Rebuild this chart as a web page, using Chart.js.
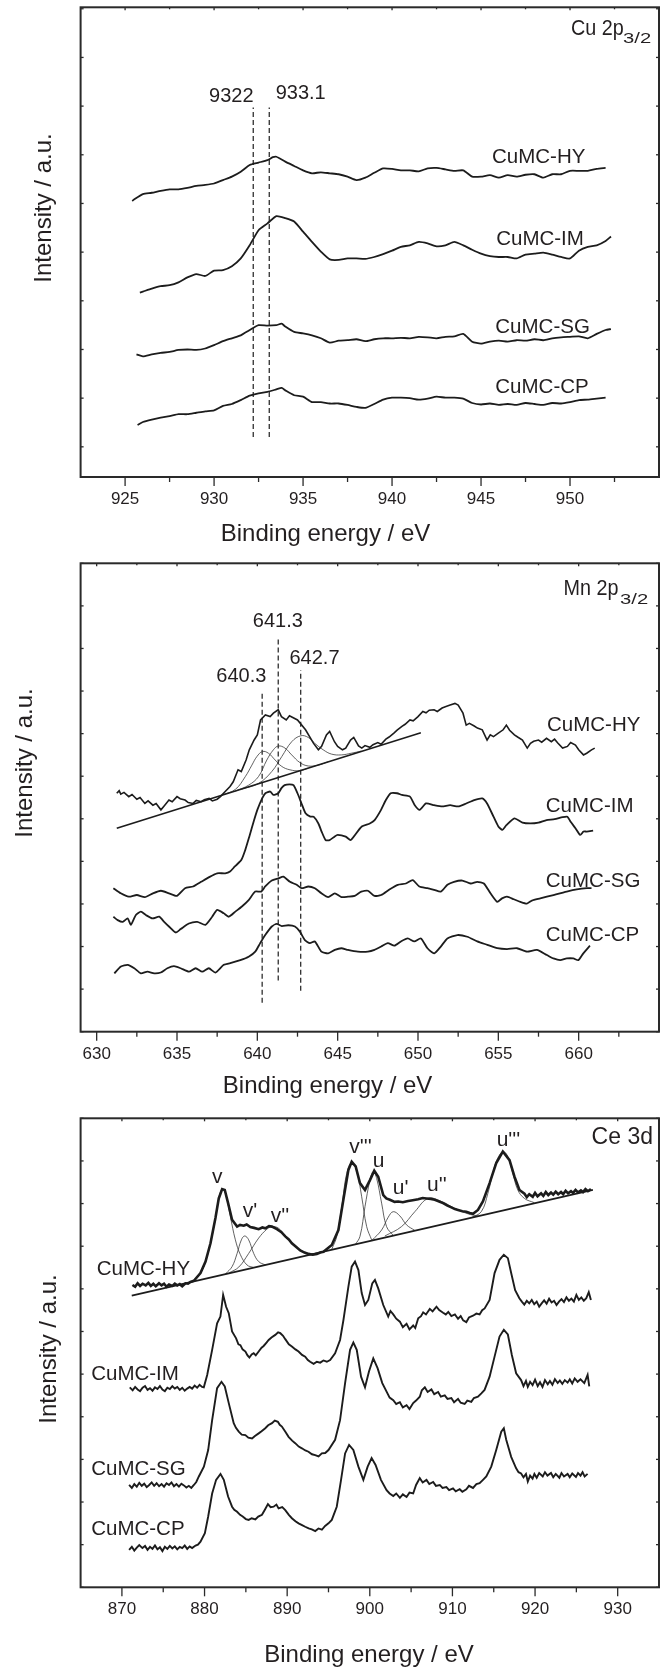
<!DOCTYPE html>
<html>
<head>
<meta charset="utf-8">
<script src="https://cdn.jsdelivr.net/npm/chart.js@4.4.1/dist/chart.umd.min.js"></script>
<style>
  html, body { margin: 0; padding: 0; background: #fff; }
  #wrap { position: relative; width: 665px; height: 1669px; }
  #wrap canvas { position: absolute; left: 0; }
</style>
</head>
<body>
<div id="wrap">
  <canvas id="cuChart" width="665" height="552" style="top:0px"></canvas>
  <canvas id="mnChart" width="665" height="552" style="top:552px"></canvas>
  <canvas id="ceChart" width="665" height="565" style="top:1104px"></canvas>
</div>
<script>
// ---- Cu 2p3/2 ----
const cuTicks = [925, 930, 935, 940, 945, 950];
const cuMinor = [927.5, 932.5, 937.5, 942.5, 947.5, 952.5];
const cuPeaks = [932.2, 933.1];
const cuPeakLabels = ["9322", "933.1"];
const cuHY = [[925.4,5.05],[925.5,5.08],[926,5.19],[926.5,5.22],[927,5.26],[927.5,5.29],[928,5.29],[928.5,5.32],[929,5.36],[929.5,5.38],[930,5.41],[930.5,5.48],[931,5.55],[931.5,5.65],[932,5.79],[932.5,5.84],[933,5.89],[933.3,5.95],[933.5,5.96],[934,5.86],[934.5,5.77],[935,5.68],[935.5,5.62],[936,5.64],[936.5,5.62],[937,5.60],[937.5,5.55],[938,5.48],[938.5,5.53],[939,5.63],[939.5,5.72],[940,5.71],[940.5,5.68],[941,5.68],[941.5,5.66],[942,5.72],[942.5,5.73],[943,5.70],[943.5,5.67],[944,5.68],[944.5,5.55],[945,5.55],[945.5,5.58],[946,5.53],[946.5,5.58],[947,5.55],[947.5,5.59],[948,5.60],[948.5,5.53],[949,5.60],[949.5,5.60],[950,5.67],[950.5,5.67],[951,5.67],[951.5,5.71],[952,5.73]];
const cuIM = [[925.83,3.17],[926,3.19],[926.5,3.25],[927,3.30],[927.5,3.32],[928,3.38],[928.5,3.48],[929,3.55],[929.5,3.51],[930,3.62],[930.5,3.63],[931,3.71],[931.5,3.87],[932,4.14],[932.5,4.45],[933,4.59],[933.5,4.74],[934,4.70],[934.5,4.63],[935,4.42],[935.5,4.21],[936,4.01],[936.5,3.85],[937,3.84],[937.5,3.87],[938,3.87],[938.5,3.86],[939,3.90],[939.5,3.96],[940,4.03],[940.5,4.11],[941,4.14],[941.5,4.21],[942,4.18],[942.5,4.12],[943,4.14],[943.5,4.21],[944,4.14],[944.5,4.05],[945,3.97],[945.5,3.92],[946,3.90],[946.5,3.90],[947,3.87],[947.5,3.95],[948,3.97],[948.5,3.99],[949,3.95],[949.5,3.90],[950,3.87],[950.5,4.03],[951,4.11],[951.5,4.14],[952,4.23],[952.3,4.32]];
const cuSG = [[925.64,1.90],[926,1.86],[926.5,1.90],[927,1.93],[927.5,1.95],[928,1.99],[928.5,2.00],[929,1.99],[929.5,2.02],[930,2.09],[930.5,2.17],[931,2.23],[931.5,2.29],[932,2.40],[932.5,2.50],[933,2.49],[933.5,2.50],[933.8,2.53],[934,2.47],[934.5,2.36],[935,2.33],[935.5,2.29],[936,2.23],[936.5,2.14],[937,2.18],[937.5,2.19],[938,2.21],[938.5,2.17],[939,2.21],[939.5,2.23],[940,2.23],[940.5,2.24],[941,2.23],[941.5,2.26],[942,2.25],[942.5,2.23],[943,2.26],[943.5,2.27],[944,2.32],[944.5,2.16],[945,2.12],[945.5,2.16],[946,2.18],[946.5,2.16],[947,2.19],[947.5,2.18],[948,2.21],[948.5,2.19],[949,2.23],[949.5,2.25],[950,2.26],[950.5,2.27],[951,2.23],[951.5,2.32],[952,2.40],[952.3,2.42]];
const cuCP = [[925.7,0.45],[926,0.51],[926.5,0.56],[927,0.60],[927.5,0.63],[928,0.67],[928.5,0.67],[929,0.70],[929.5,0.73],[930,0.75],[930.5,0.84],[931,0.88],[931.5,0.96],[932,1.05],[932.5,1.10],[933,1.13],[933.5,1.18],[933.8,1.21],[934,1.16],[934.5,1.06],[935,1.03],[935.5,0.92],[936,0.92],[936.5,0.89],[937,0.89],[937.5,0.86],[938,0.82],[938.5,0.80],[939,0.88],[939.5,0.97],[940,1.01],[940.5,1.01],[941,1.00],[941.5,0.97],[942,0.99],[942.5,1.03],[943,1.01],[943.5,1.01],[944,0.99],[944.5,0.90],[945,0.87],[945.5,0.89],[946,0.86],[946.5,0.88],[947,0.86],[947.5,0.90],[948,0.88],[948.5,0.86],[949,0.90],[949.5,0.89],[950,0.92],[950.5,0.96],[951,0.97],[951.5,0.99],[952,1.01]];

// ---- Mn 2p3/2 ----
const mnTicks = [630, 635, 640, 645, 650, 655, 660];
const mnMinor = [632.5, 637.5, 642.5, 647.5, 652.5, 657.5, 662.5];
const mnPeaks = [640.3, 641.3, 642.7];
const mnPeakTop = [7.98, 9.28, 8.49];
const mnPeakBottom = [0.68, 1.20, 0.96];
const mnHY = [[631.25,5.60],[631.4,5.66],[631.5,5.58],[631.7,5.62],[632,5.52],[632.2,5.57],[632.5,5.46],[632.7,5.50],[633,5.36],[633.2,5.42],[633.5,5.32],[633.7,5.36],[634,5.21],[634.2,5.30],[634.5,5.44],[634.7,5.40],[635,5.52],[635.2,5.47],[635.5,5.44],[635.7,5.38],[636,5.36],[636.2,5.43],[636.5,5.40],[636.7,5.45],[637,5.48],[637.2,5.42],[637.5,5.46],[637.7,5.52],[638,5.64],[638.3,5.76],[638.5,5.87],[638.8,6.15],[639,6.11],[639.3,6.38],[639.5,6.62],[639.8,6.85],[640,6.97],[640.2,7.32],[640.5,7.44],[640.8,7.40],[641,7.48],[641.3,7.56],[641.5,7.40],[641.8,7.32],[642,7.42],[642.5,7.32],[643,7.09],[643.5,6.77],[643.8,6.62],[644,6.70],[644.3,6.97],[644.5,7.05],[644.8,6.81],[645,6.70],[645.3,6.62],[645.5,6.66],[645.8,6.85],[646,6.91],[646.3,6.71],[646.5,6.66],[646.7,6.72],[647,6.68],[647.2,6.74],[647.5,6.79],[647.7,6.75],[648,6.87],[648.2,6.92],[648.5,7.01],[648.7,7.08],[649,7.17],[649.2,7.22],[649.5,7.32],[649.7,7.30],[650,7.40],[650.3,7.52],[650.5,7.49],[650.7,7.55],[651,7.56],[651.2,7.52],[651.5,7.60],[651.7,7.63],[652,7.67],[652.3,7.71],[652.5,7.67],[652.8,7.48],[653,7.20],[653.2,7.24],[653.5,7.18],[653.7,7.13],[654,7.09],[654.3,6.85],[654.5,6.97],[654.7,6.93],[655,7.01],[655.3,7.09],[655.5,7.20],[655.7,7.08],[656,6.97],[656.2,6.92],[656.5,6.85],[656.8,6.66],[657,6.77],[657.2,6.82],[657.5,6.85],[657.7,6.80],[658,6.89],[658.3,6.81],[658.5,6.87],[658.7,6.78],[659,6.66],[659.3,6.70],[659.5,6.79],[659.8,6.73],[660,6.62],[660.3,6.50],[660.5,6.54],[660.8,6.62],[661,6.66]];
const mnHYBase = [[631.25,4.78],[650.18,7.02]];
const mnFit1 = [[637.81,5.56],[638.63,5.69],[639.25,5.99],[639.66,6.26],[639.97,6.46],[640.32,6.58],[640.69,6.54],[641.11,6.38],[641.52,6.23],[642.03,6.15],[642.65,6.13],[643.17,6.19]];
const mnFit2 = [[638.63,5.65],[639.46,5.79],[640.07,5.99],[640.59,6.38],[641.00,6.62],[641.31,6.71],[641.72,6.66],[642.14,6.50],[642.65,6.32],[643.17,6.24],[643.79,6.26],[644.41,6.34]];
const mnFit3 = [[639.04,5.70],[640.07,5.83],[640.90,6.11],[641.52,6.46],[642.14,6.81],[642.71,6.95],[643.17,6.91],[643.58,6.77],[644.10,6.62],[644.61,6.52],[645.23,6.50],[645.85,6.54],[646.47,6.59]];
const mnIM = [[631.04,3.37],[631.5,3.25],[632,3.17],[632.5,3.21],[633,3.16],[633.5,3.25],[634,3.31],[634.5,3.25],[635,3.19],[635.5,3.37],[636,3.41],[636.5,3.52],[637,3.63],[637.5,3.72],[638,3.72],[638.3,3.76],[638.6,3.88],[639,4.03],[639.25,4.27],[639.5,4.58],[639.8,4.97],[640,5.21],[640.3,5.48],[640.5,5.60],[640.8,5.64],[641,5.56],[641.3,5.60],[641.5,5.72],[641.7,5.79],[642,5.81],[642.25,5.79],[642.5,5.60],[642.75,5.36],[643,5.13],[643.3,5.05],[643.5,5.05],[643.8,4.89],[644,4.70],[644.25,4.50],[644.5,4.50],[644.8,4.58],[645,4.62],[645.5,4.58],[645.8,4.50],[646,4.58],[646.5,4.82],[647,4.89],[647.3,4.97],[647.7,5.21],[648,5.44],[648.3,5.60],[648.7,5.60],[649,5.56],[649.5,5.52],[649.8,5.32],[650.1,5.21],[650.5,5.36],[651,5.32],[651.5,5.29],[652,5.32],[652.5,5.29],[653,5.36],[653.5,5.44],[654,5.48],[654.3,5.36],[654.7,5.05],[655,4.82],[655.25,4.74],[655.5,4.85],[656,5.01],[656.5,4.91],[657,4.89],[657.5,4.91],[658,4.97],[658.5,4.99],[659,5.04],[659.3,5.05],[659.5,4.93],[659.8,4.78],[660.1,4.62],[660.3,4.70],[660.5,4.70],[660.9,4.72]];
const mnSG = [[631.04,2.70],[631.31,2.62],[631.62,2.58],[631.93,2.66],[632.13,2.51],[632.44,2.74],[632.75,2.82],[633.06,2.74],[633.48,2.66],[633.89,2.70],[634.20,2.58],[634.50,2.47],[634.92,2.33],[635.23,2.41],[635.74,2.54],[636.26,2.58],[636.77,2.51],[637.19,2.70],[637.50,2.86],[637.91,2.78],[638.22,2.70],[638.63,2.82],[639.04,2.94],[639.46,3.09],[639.87,3.29],[640.24,3.29],[640.49,3.41],[640.90,3.55],[641.31,3.60],[641.62,3.64],[642.03,3.52],[642.45,3.45],[642.76,3.37],[643.17,3.41],[643.58,3.37],[643.99,3.25],[644.41,3.16],[644.82,3.25],[645.23,3.16],[645.64,3.17],[646.06,3.19],[646.47,3.29],[646.88,3.31],[647.29,3.19],[647.71,3.21],[648.22,3.34],[648.74,3.45],[649.25,3.48],[649.67,3.56],[650.08,3.41],[650.59,3.37],[651.01,3.33],[651.42,3.29],[651.83,3.45],[652.24,3.52],[652.76,3.55],[653.28,3.48],[653.69,3.52],[654.10,3.48],[654.51,3.25],[654.93,3.05],[655.23,3.13],[655.54,3.17],[655.96,3.11],[656.37,3.05],[656.78,3.01],[657.09,3.08],[657.61,3.13],[658.43,3.21],[659.26,3.29],[659.88,3.34],[660.51,3.37],[660.80,3.37]];
const mnCP = [[631.10,1.37],[631.51,1.53],[631.93,1.57],[632.34,1.49],[632.75,1.37],[633.16,1.41],[633.58,1.37],[633.99,1.39],[634.40,1.49],[634.81,1.54],[635.23,1.49],[635.74,1.41],[636.16,1.49],[636.57,1.41],[636.98,1.49],[637.39,1.39],[637.91,1.57],[638.42,1.62],[638.94,1.68],[639.46,1.76],[639.87,1.88],[640.18,2.08],[640.49,2.27],[640.90,2.47],[641.21,2.53],[641.52,2.48],[641.93,2.50],[642.34,2.47],[642.65,2.35],[642.96,2.15],[643.27,2.08],[643.58,2.12],[643.99,1.88],[644.41,1.84],[644.82,1.92],[645.23,1.96],[645.64,1.92],[646.26,1.88],[646.88,1.88],[647.29,1.92],[647.71,2.00],[648.12,2.08],[648.53,2.02],[648.94,2.12],[649.36,2.19],[649.77,2.12],[650.18,2.19],[650.59,1.96],[651.01,1.84],[651.42,2.00],[651.83,2.19],[652.45,2.27],[653.07,2.23],[653.69,2.12],[654.31,2.04],[654.93,1.96],[655.54,1.94],[656.16,1.96],[656.78,1.88],[657.40,1.92],[658.02,1.80],[658.43,1.72],[658.85,1.68],[659.26,1.72],[659.67,1.72],[659.98,1.68],[660.29,1.84],[660.70,2.02]];

// ---- Ce 3d ----
const ceTicks = [870, 880, 890, 900, 910, 920, 930];
const ceMinor = [875, 885, 895, 905, 915, 925, 935];
const ceHY = [[871.27,7.09],[871.6,7.05],[871.9,7.13],[872.2,7.07],[872.5,7.12],[872.88,7.08],[873.2,7.14],[873.5,7.07],[873.8,7.12],[874.1,7.06],[874.49,7.13],[874.8,7.08],[875.1,7.12],[875.4,7.05],[875.7,7.10],[876.1,7.07],[876.4,7.12],[876.7,7.08],[877.0,7.11],[877.3,7.06],[877.7,7.13],[878.0,7.12],[878.3,7.16],[878.71,7.19],[879.51,7.37],[880.12,7.64],[880.72,8.07],[881.32,8.66],[881.72,9.12],[882.13,9.34],[882.45,9.32],[882.85,9.01],[883.33,8.62],[883.94,8.46],[884.3,8.50],[884.74,8.48],[885.1,8.51],[885.54,8.45],[886.0,8.43],[886.55,8.40],[887.0,8.44],[887.35,8.42],[887.8,8.47],[888.16,8.46],[888.76,8.40],[889.3,8.33],[889.77,8.23],[890.2,8.16],[890.57,8.07],[891.1,7.98],[891.58,7.90],[892.1,7.85],[892.58,7.82],[893.1,7.80],[893.59,7.82],[894.0,7.85],[894.39,7.87],[895.40,8.03],[896.20,8.38],[896.80,9.09],[897.41,9.79],[897.81,9.98],[898.29,9.87],[898.81,9.48],[899.42,9.32],[900.02,9.55],[900.54,9.77],[901.02,9.63],[901.63,9.20],[902.0,9.12],[902.43,9.09],[903.0,9.04],[903.44,9.05],[904.0,9.03],[904.64,9.06],[905.2,9.08],[905.85,9.10],[906.4,9.13],[906.86,9.12],[907.4,9.11],[907.86,9.09],[908.4,9.05],[908.87,9.01],[909.4,8.95],[909.87,8.91],[910.3,8.87],[910.68,8.85],[911.2,8.82],[911.68,8.81],[912.1,8.78],[912.49,8.76],[913.09,8.85],[913.69,9.05],[914.50,9.48],[915.30,9.95],[916.10,10.22],[916.91,10.02],[917.51,9.63],[918.11,9.32],[918.72,9.23],[919.0,9.15],[919.3,9.22],[919.72,9.16],[920.0,9.25],[920.3,9.17],[920.73,9.24],[921.0,9.18],[921.3,9.27],[921.6,9.20],[921.93,9.26],[922.2,9.21],[922.5,9.28],[922.8,9.22],[923.14,9.27],[923.4,9.22],[923.7,9.30],[924.0,9.24],[924.35,9.29],[924.6,9.25],[924.9,9.32],[925.2,9.26],[925.55,9.31],[925.8,9.27],[926.1,9.34],[926.4,9.29],[926.76,9.34]];
const ceHYBase = [[871.19,6.84],[927.0,9.32]];
const ceFitV = [[878.50,7.17],[879.51,7.37],[880.12,7.64],[880.72,8.07],[881.32,8.66],[881.72,9.12],[882.13,9.34],[882.53,9.24],[883.13,8.69],[883.73,8.15],[884.34,7.80],[885.14,7.56],[885.95,7.50]];
const ceFitV1 = [[882.53,7.35],[883.33,7.52],[883.94,7.83],[884.46,8.15],[884.86,8.24],[885.34,8.15],[885.95,7.83],[886.55,7.64],[887.35,7.56]];
const ceFitV2 = [[882.93,7.37],[884.14,7.51],[885.34,7.83],[886.55,8.19],[887.55,8.40],[888.16,8.46],[888.96,8.42],[889.77,8.24],[890.57,8.07],[891.58,7.91],[892.58,7.83],[893.39,7.83]];
const ceFitV3 = [[895.40,7.93],[896.00,8.23],[896.61,8.93],[897.21,9.71],[897.81,9.96],[898.41,9.77],[899.02,9.16],[899.62,8.46],[900.22,8.15]];
const ceFitU = [[898.21,8.03],[898.81,8.23],[899.42,8.93],[900.02,9.55],[900.42,9.75],[900.83,9.59],[901.43,9.01],[902.03,8.46],[902.84,8.25]];
const ceFitU1 = [[900.22,8.13],[901.43,8.38],[902.23,8.68],[902.84,8.81],[903.64,8.71],[904.45,8.50],[905.45,8.37]];
const ceFitU2 = [[901.83,8.24],[903.84,8.46],[905.45,8.81],[907.06,9.12],[908.67,9.05],[910.27,8.89],[911.88,8.76],[913.09,8.71]];
const ceFitU3 = [[912.28,8.67],[913.49,8.81],[914.29,9.24],[915.10,9.87],[915.70,10.14],[916.18,10.22],[916.71,10.10],[917.31,9.71],[917.91,9.32],[918.72,9.12],[919.92,9.02]];
const ceIM = [[870.95,4.69],[871.3,4.62],[871.6,4.70],[871.9,4.64],[872.2,4.60],[872.5,4.68],[872.8,4.72],[873.1,4.63],[873.4,4.67],[873.7,4.61],[874.0,4.69],[874.3,4.65],[874.6,4.72],[874.9,4.64],[875.2,4.60],[875.5,4.68],[875.8,4.65],[876.1,4.72],[876.4,4.66],[876.7,4.70],[877.0,4.63],[877.3,4.68],[877.6,4.61],[877.9,4.66],[878.2,4.70],[878.5,4.66],[878.8,4.73],[879.1,4.68],[879.4,4.75],[879.7,4.70],[879.91,4.69],[880.32,4.98],[880.92,5.57],[881.52,6.19],[881.92,6.35],[882.25,6.86],[882.61,6.58],[882.93,6.43],[883.33,6.00],[883.82,5.84],[884.1,5.70],[884.34,5.68],[884.6,5.58],[884.95,5.53],[885.2,5.44],[885.43,5.39],[885.7,5.46],[885.95,5.49],[886.2,5.44],[886.55,5.53],[886.9,5.62],[887.15,5.66],[887.5,5.74],[887.76,5.80],[888.1,5.86],[888.56,5.92],[888.9,5.98],[889.17,5.96],[889.5,5.90],[889.77,5.82],[890.2,5.70],[890.57,5.65],[891.0,5.58],[891.38,5.53],[891.8,5.45],[892.18,5.41],[892.5,5.33],[892.78,5.29],[893.2,5.24],[893.59,5.29],[894.0,5.27],[894.39,5.32],[894.8,5.29],[895.20,5.33],[895.80,5.49],[896.40,5.80],[896.81,6.27],[897.41,7.05],[897.81,7.52],[898.21,7.64],[898.62,7.44],[899.02,6.90],[899.42,6.62],[899.82,6.74],[900.30,7.13],[900.62,7.21],[901.02,7.01],[901.63,6.62],[902.23,6.35],[902.5,6.48],[902.84,6.40],[903.2,6.30],[903.64,6.23],[904.0,6.10],[904.45,6.18],[904.8,6.05],[905.25,6.14],[905.5,6.08],[905.86,6.31],[906.2,6.36],[906.46,6.45],[906.8,6.40],[907.26,6.53],[907.6,6.47],[908.07,6.58],[908.4,6.50],[908.87,6.44],[909.2,6.40],[909.5,6.46],[909.87,6.36],[910.3,6.40],[910.68,6.30],[911.0,6.36],[911.3,6.26],[911.68,6.22],[912.0,6.33],[912.49,6.37],[912.9,6.42],[913.29,6.40],[913.6,6.50],[913.90,6.54],[914.50,6.74],[915.10,7.37],[915.70,7.68],[916.22,7.80],[916.71,7.72],[917.11,7.37],[917.59,6.97],[918.1,6.78],[918.4,6.70],[918.7,6.63],[919.0,6.72],[919.3,6.66],[919.6,6.74],[919.9,6.64],[920.2,6.70],[920.5,6.58],[920.8,6.66],[921.1,6.73],[921.4,6.65],[921.7,6.77],[922.0,6.68],[922.3,6.72],[922.6,6.62],[922.9,6.70],[923.2,6.76],[923.5,6.69],[923.8,6.80],[924.1,6.72],[924.4,6.77],[924.7,6.70],[925.0,6.86],[925.3,6.74],[925.6,6.80],[925.9,6.72],[926.2,6.78],[926.5,6.92],[926.76,6.74]];
const ceSG = [[870.87,2.40],[871.2,2.33],[871.5,2.42],[871.8,2.36],[872.1,2.45],[872.4,2.38],[872.7,2.43],[873.0,2.35],[873.3,2.40],[873.6,2.46],[873.9,2.38],[874.2,2.44],[874.5,2.37],[874.8,2.42],[875.1,2.36],[875.4,2.44],[875.7,2.40],[876.0,2.46],[876.3,2.37],[876.6,2.42],[876.9,2.36],[877.2,2.43],[877.5,2.39],[877.8,2.34],[878.1,2.38],[878.4,2.33],[878.71,2.40],[879.0,2.47],[879.31,2.60],[879.92,2.83],[880.44,3.22],[880.92,3.92],[881.52,4.67],[882.05,4.82],[882.45,4.71],[882.93,4.32],[883.53,3.85],[883.8,3.74],[884.14,3.65],[884.5,3.58],[884.94,3.57],[885.3,3.51],[885.75,3.49],[886.1,3.55],[886.55,3.61],[886.9,3.66],[887.35,3.73],[887.7,3.80],[888.16,3.85],[888.5,3.91],[888.88,3.88],[889.1,3.81],[889.36,3.77],[889.8,3.64],[890.17,3.53],[890.6,3.44],[890.97,3.38],[891.4,3.30],[891.78,3.26],[892.2,3.21],[892.58,3.18],[893.0,3.12],[893.39,3.10],[893.8,3.07],[894.19,3.14],[894.6,3.15],[895.00,3.22],[895.80,3.46],[896.40,3.92],[897.01,4.79],[897.61,5.57],[898.01,5.74],[898.42,5.57],[898.94,4.94],[899.42,4.69],[899.90,5.06],[900.42,5.37],[900.94,5.14],[901.51,4.79],[902.03,4.59],[902.4,4.45],[902.84,4.39],[903.2,4.30],[903.64,4.34],[904.0,4.22],[904.45,4.27],[904.8,4.18],[905.25,4.32],[905.6,4.38],[906.05,4.47],[906.3,4.62],[906.66,4.69],[907.0,4.58],[907.46,4.64],[907.8,4.53],[908.27,4.58],[908.6,4.47],[909.07,4.50],[909.4,4.42],[909.87,4.44],[910.2,4.34],[910.68,4.42],[911.0,4.33],[911.48,4.30],[911.8,4.38],[912.28,4.35],[912.6,4.44],[913.09,4.47],[913.5,4.55],[913.89,4.63],[914.50,4.94],[915.10,5.41],[915.70,5.88],[916.22,6.04],[916.71,5.93],[917.19,5.45],[917.71,5.02],[918.31,4.86],[918.6,4.72],[918.9,4.84],[919.12,4.70],[919.4,4.82],[919.7,4.74],[920.0,4.87],[920.32,4.72],[920.6,4.81],[920.9,4.70],[921.2,4.86],[921.53,4.76],[921.8,4.84],[922.1,4.75],[922.4,4.88],[922.74,4.79],[923.0,4.85],[923.3,4.77],[923.6,4.86],[923.94,4.80],[924.2,4.88],[924.5,4.78],[924.8,4.90],[925.15,4.82],[925.5,4.88],[925.96,4.79],[926.36,4.98],[926.56,4.71]];
const ceCP = [[870.87,0.88],[871.2,0.95],[871.5,0.86],[871.8,0.93],[872.1,0.99],[872.48,0.92],[872.8,0.97],[873.1,0.88],[873.4,0.95],[873.7,0.90],[874.0,0.98],[874.3,0.89],[874.6,0.94],[874.9,0.85],[875.2,0.95],[875.5,0.90],[875.8,0.97],[876.1,0.91],[876.4,0.96],[876.7,0.89],[877.0,0.95],[877.3,0.92],[877.6,0.98],[877.9,0.90],[878.2,0.96],[878.5,0.92],[878.91,0.98],[879.2,1.00],[879.51,1.07],[880.04,1.27],[880.44,1.66],[880.92,2.20],[881.40,2.52],[881.93,2.66],[882.33,2.52],[882.85,2.13],[883.33,1.89],[883.6,1.82],[883.94,1.77],[884.3,1.70],[884.62,1.66],[885.0,1.60],[885.34,1.58],[885.7,1.62],[886.15,1.59],[886.5,1.66],[886.95,1.70],[887.3,1.82],[887.67,1.95],[888.0,1.88],[888.36,1.89],[888.7,1.94],[888.96,1.85],[889.4,1.88],[889.77,1.81],[890.2,1.70],[890.57,1.62],[891.0,1.55],[891.38,1.50],[891.8,1.46],[892.18,1.42],[892.6,1.38],[892.98,1.36],[893.4,1.32],[893.79,1.38],[894.2,1.35],[894.59,1.44],[895.0,1.50],[895.40,1.58],[896.00,1.89],[896.52,2.52],[897.01,3.14],[897.49,3.34],[898.01,3.22],[898.62,2.83],[899.22,2.52],[899.74,2.83],[900.22,3.03],[900.70,2.87],[901.35,2.52],[902.03,2.28],[902.4,2.20],[902.84,2.14],[903.2,2.20],[903.64,2.10],[904.0,2.18],[904.45,2.12],[904.8,2.22],[905.25,2.20],[905.6,2.40],[906.05,2.56],[906.4,2.46],[906.86,2.52],[907.2,2.42],[907.67,2.47],[908.0,2.38],[908.47,2.40],[908.8,2.33],[909.27,2.35],[909.6,2.28],[910.07,2.32],[910.4,2.25],[910.88,2.30],[911.2,2.24],[911.68,2.30],[912.0,2.38],[912.49,2.33],[912.9,2.42],[913.29,2.44],[913.7,2.52],[914.10,2.60],[914.70,2.83],[915.30,3.22],[915.91,3.65],[916.22,3.73],[916.51,3.46],[917.11,3.06],[917.71,2.79],[918.0,2.70],[918.31,2.67],[918.6,2.58],[918.9,2.66],[919.12,2.48],[919.4,2.62],[919.7,2.55],[919.92,2.66],[920.2,2.57],[920.5,2.68],[920.93,2.60],[921.2,2.70],[921.5,2.62],[921.93,2.68],[922.2,2.58],[922.5,2.66],[922.94,2.57],[923.2,2.68],[923.5,2.60],[923.94,2.66],[924.2,2.58],[924.5,2.67],[924.95,2.59],[925.2,2.68],[925.5,2.62],[925.75,2.70],[926.0,2.60],[926.36,2.66]];

const INK = "#1c1c1c";
const TEXT = "#231f20";
const FONT = "'Liberation Sans', Arial, Helvetica, sans-serif";
const fullTicks = (n) => Array.from({ length: n + 1 }, (_, i) => i);

function pts(arr) {
  return arr.map(([x, y]) => ({ x, y }));
}

function curve(data, width, tension) {
  return { data: pts(data), showLine: true, borderColor: INK, borderWidth: width, pointRadius: 0, tension: tension, fill: false };
}

function fitCurve(data) {
  return { data: pts(data), showLine: true, borderColor: "#3a3a3a", borderWidth: 0.8, pointRadius: 0, tension: 0.4, fill: false };
}

function dashed(x, y0, y1) {
  return { data: [{ x, y: y0 }, { x, y: y1 }], showLine: true, borderColor: INK, borderWidth: 1.2, borderDash: [5, 3], pointRadius: 0, fill: false };
}

// frame, tick marks and all the text that sits on each panel
const panelDecor = {
  id: "panelDecor",
  afterDatasetsDraw(chart, args, opts) {
    const { ctx, chartArea: a, scales: { x, y } } = chart;
    ctx.save();
    ctx.strokeStyle = "#2a2a2a";
    ctx.lineCap = "butt";

    const seg = (x0, y0, x1, y1) => {
      ctx.beginPath();
      ctx.moveTo(x0, y0);
      ctx.lineTo(x1, y1);
      ctx.stroke();
    };

    ctx.lineWidth = 1.3;
    opts.major.forEach((v) => {
      const px = x.getPixelForValue(v);
      seg(px, a.bottom, px, a.bottom + 9);
      seg(px, a.top, px, a.top + 3);
    });
    opts.minor.forEach((v) => {
      const px = x.getPixelForValue(v);
      if (px > a.right - 1) return;
      seg(px, a.bottom, px, a.bottom + 5);
      seg(px, a.top, px, a.top + 2);
    });
    opts.yTicks.forEach((v) => {
      const py = y.getPixelForValue(v);
      seg(a.left, py, a.left + 3, py);
      seg(a.right, py, a.right - 3, py);
    });

    ctx.lineWidth = 2;
    ctx.strokeRect(a.left, a.top, a.right - a.left, a.bottom - a.top);

    ctx.fillStyle = TEXT;
    ctx.textBaseline = "alphabetic";
    opts.texts.forEach((t) => {
      ctx.save();
      ctx.font = `${t.size}px ${FONT}`;
      ctx.textAlign = t.align || "left";
      ctx.translate(t.x, t.y);
      ctx.scale(t.stretch || 1, 1);
      ctx.fillText(t.text, 0, 0);
      ctx.restore();
    });

    ctx.font = `24px ${FONT}`;
    ctx.textAlign = "center";
    ctx.fillText("Binding energy / eV", opts.xTitle[0], opts.xTitle[1]);

    ctx.translate(opts.yTitle[0], opts.yTitle[1]);
    ctx.rotate(-Math.PI / 2);
    ctx.fillText("Intensity / a.u.", 0, 0);
    ctx.restore();
  },
};

function makePanel(id, cfg) {
  return new Chart(document.getElementById(id), {
    type: "scatter",
    data: { datasets: cfg.datasets },
    options: {
      responsive: false,
      animation: false,
      events: [],
      layout: { padding: { left: 80.6, right: 6, top: cfg.top, bottom: 0 } },
      plugins: {
        legend: { display: false },
        tooltip: { enabled: false },
        panelDecor: { major: cfg.major, minor: cfg.minor, yTicks: cfg.yTicks, texts: cfg.texts, xTitle: cfg.xTitle, yTitle: cfg.yTitle },
      },
      scales: {
        x: {
          type: "linear",
          min: cfg.xMin,
          max: cfg.xMax,
          afterBuildTicks: (axis) => { axis.ticks = cfg.major.map((v) => ({ value: v })); },
          afterFit: (axis) => { axis.height = cfg.xHeight; },
          grid: { display: false, drawTicks: false },
          border: { display: false },
          ticks: { color: TEXT, font: { family: FONT, size: 17 }, padding: 12, maxRotation: 0, autoSkip: false },
        },
        y: { type: "linear", display: false, min: cfg.yMin, max: cfg.yMax },
      },
    },
    plugins: [panelDecor],
  });
}

const label = (text, x, y, size, align, stretch) => ({ text, x, y, size, align, stretch });

makePanel("cuChart", {
  xMin: 922.5, xMax: 955, yMin: -0.62, yMax: 9.03, top: 7.3, xHeight: 75,
  major: cuTicks, minor: cuMinor, yTicks: fullTicks(9),
  xTitle: [325.5, 540.7], yTitle: [51, 208],
  datasets: [
    curve(cuHY, 1.8, 0.2), curve(cuIM, 1.8, 0.2), curve(cuSG, 1.8, 0.2), curve(cuCP, 1.8, 0.2),
    dashed(cuPeaks[0], 0.2, 6.97), dashed(cuPeaks[1], 0.2, 6.97),
  ],
  texts: [
    label("Cu 2p", 571, 35, 21.5, "left", 0.92), label("3/2", 623, 43.3, 15, "left", 1.35),
    label(cuPeakLabels[0], 231.3, 101.7, 20, "center"), label(cuPeakLabels[1], 300.7, 99.3, 20, "center"),
    label("CuMC-HY", 492, 163, 20.5), label("CuMC-IM", 496.2, 245, 20.5),
    label("CuMC-SG", 495.3, 333, 20.5), label("CuMC-CP", 495.3, 393, 20.5),
  ],
});

makePanel("mnChart", {
  xMin: 629, xMax: 665, yMin: 0, yMax: 11, top: 11.3, xHeight: 72.3,
  major: mnTicks, minor: mnMinor, yTicks: fullTicks(11),
  xTitle: [327.6, 540.7], yTitle: [31.8, 211],
  datasets: [
    curve(mnHY, 1.6, 0), curve(mnHYBase, 1.6, 0),
    fitCurve(mnFit1), fitCurve(mnFit2), fitCurve(mnFit3),
    curve(mnIM, 1.8, 0.2), curve(mnSG, 1.8, 0.2), curve(mnCP, 1.8, 0.2),
    dashed(mnPeaks[0], mnPeakBottom[0], mnPeakTop[0]),
    dashed(mnPeaks[1], mnPeakBottom[1], mnPeakTop[1]),
    dashed(mnPeaks[2], mnPeakBottom[2], mnPeakTop[2]),
  ],
  texts: [
    label("Mn 2p", 563.5, 43, 21.5, "left", 0.92), label("3/2", 620, 52, 15, "left", 1.35),
    label(String(mnPeaks[1]), 277.8, 75.3, 20, "center"),
    label(String(mnPeaks[2]), 314.5, 112, 20, "center"),
    label(String(mnPeaks[0]), 241.3, 129.7, 20, "center"),
    label("CuMC-HY", 547, 178.7, 20.5), label("CuMC-IM", 545.8, 259.7, 20.5),
    label("CuMC-SG", 545.8, 334.7, 20.5), label("CuMC-CP", 545.8, 388.7, 20.5),
  ],
});

makePanel("ceChart", {
  xMin: 865, xMax: 935, yMin: 0, yMax: 11, top: 14.3, xHeight: 81.7,
  major: ceTicks, minor: ceMinor, yTicks: fullTicks(11),
  xTitle: [369, 557.7], yTitle: [56, 245],
  datasets: [
    curve(ceHY, 2.6, 0), curve(ceHYBase, 1.8, 0),
    fitCurve(ceFitV), fitCurve(ceFitV1), fitCurve(ceFitV2), fitCurve(ceFitV3),
    fitCurve(ceFitU), fitCurve(ceFitU1), fitCurve(ceFitU2), fitCurve(ceFitU3),
    curve(ceIM, 1.9, 0), curve(ceSG, 1.9, 0), curve(ceCP, 1.9, 0),
  ],
  texts: [
    label("Ce 3d", 591.6, 40, 23),
    label("v", 217.3, 79.3, 21, "center"), label("v'", 250, 112.7, 21, "center"),
    label("v''", 280, 117.7, 21, "center"), label("v'''", 360.5, 49.3, 21, "center"),
    label("u", 378.5, 62.7, 21, "center"), label("u'", 400.7, 90, 21, "center"),
    label("u''", 436.8, 86.7, 21, "center"), label("u'''", 508.5, 42, 21, "center"),
    label("CuMC-HY", 96.7, 171, 20.5), label("CuMC-IM", 91.2, 276, 20.5),
    label("CuMC-SG", 91.2, 371, 20.5), label("CuMC-CP", 91.2, 431, 20.5),
  ],
});
</script>
</body>
</html>
